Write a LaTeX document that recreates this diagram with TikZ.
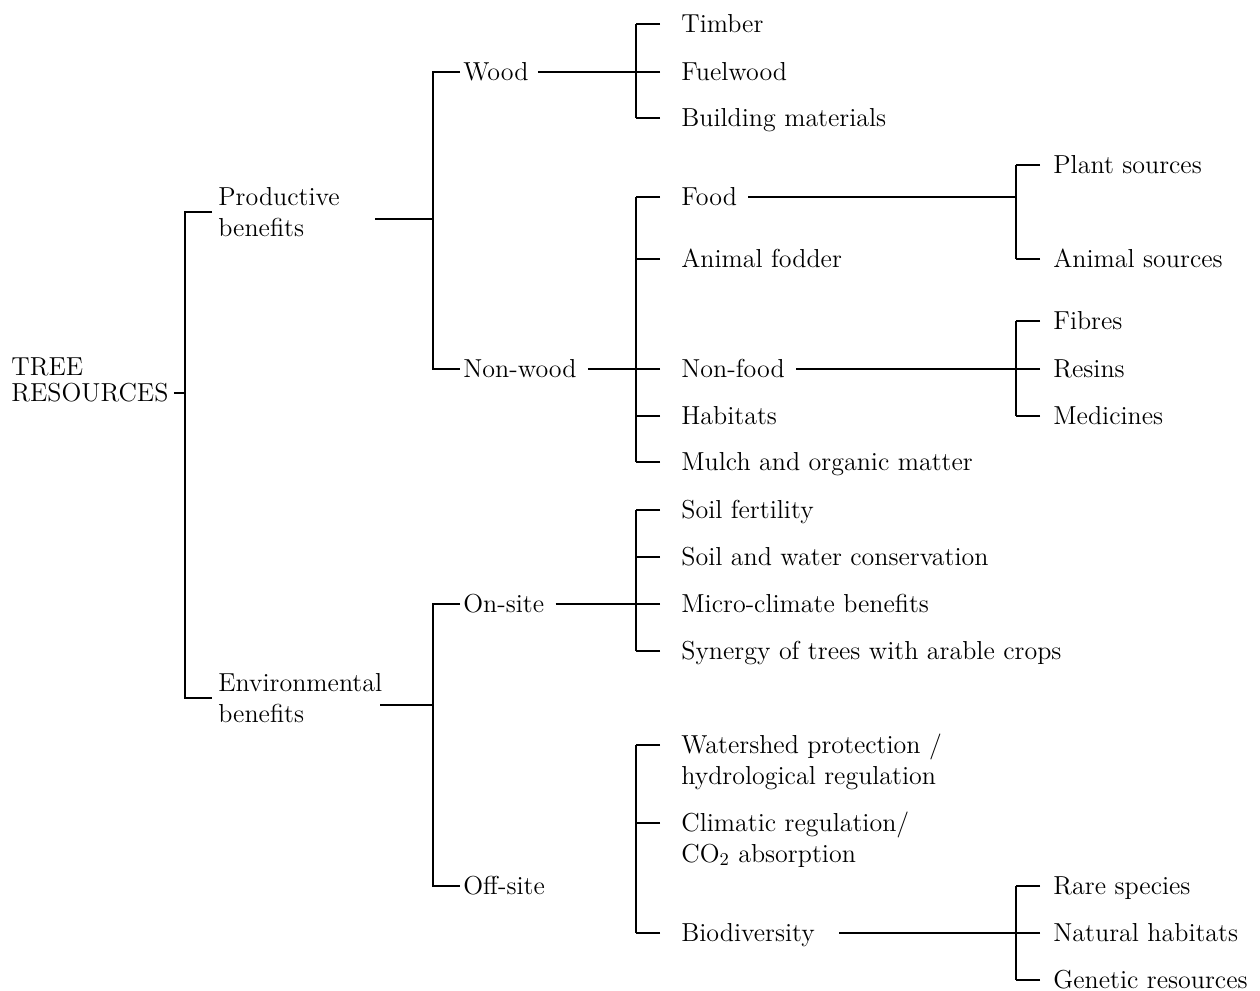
\documentclass[tikz,border=0pt]{standalone}
\usepackage{fontspec}
\begin{document}
\begin{tikzpicture}[x=0.5pt,y=-0.5pt,line width=1.4pt,
  lbl/.style={anchor=base west,inner sep=0pt,font=\fontsize{13}{15.6}\selectfont}]
\useasboundingbox (0,0) rectangle (1260,991);
% bar positions
\coordinate (b1) at (185,0);
\coordinate (b2) at (433,0);
\coordinate (b3) at (636,0);
\coordinate (b4) at (1016,0);
% text nodes
\node[lbl] (root) at (10,401) {\begin{tabular}[b]{@{}l@{}}TREE\\[-3pt]RESOURCES\end{tabular}};
\node[lbl] (prod) at (217,205) {\begin{tabular}[t]{@{}l@{}}Productive\\benefits\end{tabular}};
\node[lbl] (env) at (217,691) {\begin{tabular}[t]{@{}l@{}}Environmental\\benefits\end{tabular}};
\node[lbl] (wood) at (462,80) {Wood};
\node[lbl] (nonwood) at (462,377) {Non-wood};
\node[lbl] (onsite) at (462,612) {On-site};
\node[lbl] (offsite) at (462,894) {Off-site};
\node[lbl] (timber) at (680,32) {Timber};
\node[lbl] (fuel) at (680,80) {Fuelwood};
\node[lbl] (bmat) at (680,126) {Building materials};
\node[lbl] (food) at (680,205) {Food};
\node[lbl] (fodder) at (680,267) {Animal fodder};
\node[lbl] (nonfood) at (680,377) {Non-food};
\node[lbl] (habitats) at (680,424) {Habitats};
\node[lbl] (mulch) at (680,470) {Mulch and organic matter};
\node[lbl] (plant) at (1052,173) {Plant sources};
\node[lbl] (animal) at (1052,267) {Animal sources};
\node[lbl] (fibres) at (1052,329) {Fibres};
\node[lbl] (resins) at (1052,377) {Resins};
\node[lbl] (medicines) at (1052,424) {Medicines};
\node[lbl] (soil) at (680,518) {Soil fertility};
\node[lbl] (swc) at (680,565) {Soil and water conservation};
\node[lbl] (micro) at (680,612) {Micro-climate benefits};
\node[lbl] (synergy) at (680,659) {Synergy of trees with arable crops};
\node[lbl] (water) at (680,753) {\begin{tabular}[t]{@{}l@{}}Watershed protection /\\hydrological regulation\end{tabular}};
\node[lbl] (climatic) at (680,831) {\begin{tabular}[t]{@{}l@{}}Climatic regulation/\\CO$_2$ absorption\end{tabular}};
\node[lbl] (bio) at (680,941) {Biodiversity};
\node[lbl] (rare) at (1052,894) {Rare species};
\node[lbl] (natural) at (1052,941) {Natural habitats};
\node[lbl] (genetic) at (1052,988) {Genetic resources};
% root level
\coordinate (rT) at ([shift={(2pt,4pt)}]root.base east);
\draw (rT) -- (rT -| b1);
\coordinate (pH) at ([shift={(-2.5pt,-3.5pt)}]prod.base west);
\coordinate (eH) at ([shift={(-2.5pt,-3.5pt)}]env.base west);
\draw (pH) -- (pH -| b1) -- (eH -| b1) -- (eH);
% second level
\coordinate (pL) at ([shift={(79pt,-7pt)}]prod.base west);
\draw (pL) -- (pL -| b2);
\coordinate (eL) at ([shift={(81.5pt,-7pt)}]env.base west);
\draw (eL) -- (eL -| b2);
\coordinate (wH) at ([shift={(-1pt,4pt)}]wood.base west);
\coordinate (nH) at ([shift={(-1pt,4pt)}]nonwood.base west);
\draw (wH) -- (wH -| b2) -- (nH -| b2) -- (nH);
\coordinate (oH) at ([shift={(-1pt,4pt)}]onsite.base west);
\coordinate (fH) at ([shift={(-1pt,4pt)}]offsite.base west);
\draw (oH) -- (oH -| b2) -- (fH -| b2) -- (fH);
% third level ticks
\foreach \n in {timber,fuel,bmat,food,fodder,nonfood,habitats,mulch,soil,swc,micro,synergy,water,climatic,bio}
  {\draw ([shift={(-10pt,4pt)}]\n.base west) -- ([shift={(-22pt,4pt)}]\n.base west);}
\draw ([shift={(-22pt,4pt)}]timber.base west) -- ([shift={(-22pt,4pt)}]bmat.base west);
\draw ([shift={(-22pt,4pt)}]food.base west) -- ([shift={(-22pt,4pt)}]mulch.base west);
\draw ([shift={(-22pt,4pt)}]soil.base west) -- ([shift={(-22pt,4pt)}]synergy.base west);
\draw ([shift={(-22pt,4pt)}]water.base west) -- ([shift={(-22pt,4pt)}]bio.base west);
\draw ([shift={(4pt,4pt)}]wood.base east) -- ([shift={(-10pt,4pt)}]fuel.base west);
\draw ([shift={(5pt,4pt)}]nonwood.base east) -- ([shift={(-10pt,4pt)}]nonfood.base west);
\draw ([shift={(5pt,4pt)}]onsite.base east) -- ([shift={(-10pt,4pt)}]micro.base west);
% fourth level
\foreach \n in {plant,animal,fibres,resins,medicines,rare,natural,genetic}
  {\draw ([shift={(-6pt,4pt)}]\n.base west) -- ([shift={(-18pt,4pt)}]\n.base west);}
\draw ([shift={(-18pt,4pt)}]plant.base west) -- ([shift={(-18pt,4pt)}]animal.base west);
\draw ([shift={(-18pt,4pt)}]fibres.base west) -- ([shift={(-18pt,4pt)}]medicines.base west);
\draw ([shift={(-18pt,4pt)}]rare.base west) -- ([shift={(-18pt,4pt)}]genetic.base west);
\coordinate (fdL) at ([shift={(5pt,4pt)}]food.base east);
\draw (fdL) -- (fdL -| b4);
\draw ([shift={(5pt,4pt)}]nonfood.base east) -- ([shift={(-6pt,4pt)}]resins.base west);
\draw ([shift={(11.5pt,4pt)}]bio.base east) -- ([shift={(-6pt,4pt)}]natural.base west);
\end{tikzpicture}
\end{document}
